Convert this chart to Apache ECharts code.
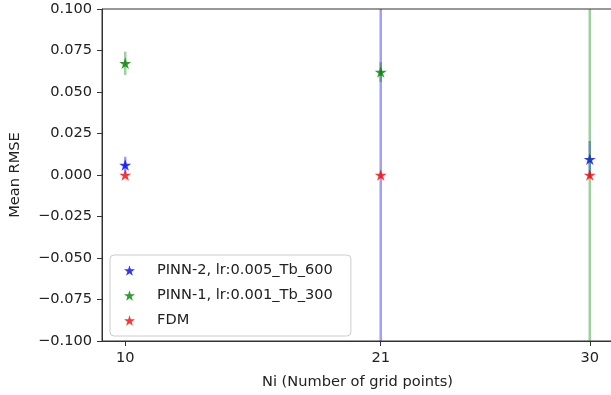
<!DOCTYPE html>
<html>
<head>
<meta charset="utf-8">
<script src="https://cdn.jsdelivr.net/npm/echarts@6/dist/echarts.min.js"></script>
<style>html,body{margin:0;padding:0;background:#fff;}#c{width:611px;height:395px;}</style>
</head>
<body>
<div id="c"></div>
<script>
// ---- data ----
const xValues = [10, 21, 30];
const xTicks = [10, 21, 30];
const seriesNames = ['PINN-2, lr:0.005_Tb_600', 'PINN-1, lr:0.001_Tb_300', 'FDM'];
const pinn2Mean = [0.006, 0.35, 0.0095];
const pinn2Err  = [0.005, 0.60, 0.011];
const pinn1Mean = [0.0673, 0.062, 0.25];
const pinn1Err  = [0.007, 0.006, 0.50];
const fdmMean   = [0.0, 0.0, 0.0];
const fdmErr    = [0.0, 0.0, 0.0];
const yMin = -0.1, yMax = 0.1, yInterval = 0.025;

const colors = ['#0000ff', '#008000', '#ff0000'];
const star = 'path://M50,0L61.23,34.55L97.55,34.55L68.17,55.9L79.39,90.45L50,69.1L20.61,90.45L31.83,55.9L2.45,34.55L38.77,34.55Z';
const font = 'DejaVu Sans';
const fs = 14.6;

const groups = [
  {name: seriesNames[0], mean: pinn2Mean, err: pinn2Err, color: colors[0]},
  {name: seriesNames[1], mean: pinn1Mean, err: pinn1Err, color: colors[1]},
  {name: seriesNames[2], mean: fdmMean, err: fdmErr, color: colors[2]}
];

const series = [];
groups.forEach((g, gi) => {
  series.push({
    type: 'custom',
    name: g.name + '_err',
    clip: true,
    z: 2 + gi * 2,
    data: xValues.map((x, i) => [x, g.mean[i], g.err[i]]),
    renderItem: function (params, api) {
      const x = api.value(0), m = api.value(1), e = api.value(2);
      const p1 = api.coord([x, m - e]);
      const p2 = api.coord([x, m + e]);
      return {
        type: 'line',
        shape: {x1: p1[0], y1: p1[1], x2: p2[0], y2: p2[1]},
        style: {stroke: g.color, lineWidth: 2.5, opacity: 0.38}
      };
    }
  });
  series.push({
    type: 'scatter',
    name: g.name,
    z: 3 + gi * 2,
    symbol: star,
    symbolKeepAspect: true,
    symbolSize: 12,
    itemStyle: {color: g.color},
    clip: true,
    data: xValues.map((x, i) => [x, g.mean[i]])
  });
});

const chart = echarts.init(document.getElementById('c'), null, {renderer: 'canvas'});
chart.setOption({
  animation: false,
  backgroundColor: '#ffffff',
  textStyle: {fontFamily: font},
  grid: {left: 102, right: -2, top: 9, bottom: 54, outerBoundsMode: 'none', containLabel: false,
         show: true, borderColor: '#333', borderWidth: 1, backgroundColor: 'transparent'},
  legend: {
    data: seriesNames.map(n => ({name: n, icon: star})),
    orient: 'vertical',
    left: 110, top: 255,
    itemWidth: 11, itemHeight: 11,
    itemGap: 10,
    padding: [8, 18, 8, 14],
    backgroundColor: 'rgba(255,255,255,0.8)',
    borderColor: '#cccccc', borderWidth: 1, borderRadius: 4,
    textStyle: {fontFamily: font, fontSize: fs, color: '#222', padding: [0, 0, 0, 17]}
  },
  xAxis: {
    type: 'value', min: 9, max: 31,
    name: 'Ni (Number of grid points)', nameLocation: 'middle', nameGap: 34,
    nameTextStyle: {fontFamily: font, fontSize: fs, color: '#222'},
    axisLine: {show: true, onZero: false, lineStyle: {color: '#333', width: 1}},
    axisTick: {show: true, length: 5, inside: false, customValues: xTicks, lineStyle: {color: '#333'}},
    axisLabel: {customValues: xTicks, fontSize: fs, color: '#222', margin: 10, fontFamily: font},
    splitLine: {show: false}
  },
  yAxis: {
    type: 'value', min: yMin, max: yMax, interval: yInterval,
    name: 'Mean RMSE', nameLocation: 'middle', nameGap: 79, nameRotate: 90,
    nameTextStyle: {fontFamily: font, fontSize: fs, color: '#222'},
    axisLine: {show: true, onZero: false, lineStyle: {color: '#333', width: 1}},
    axisTick: {show: true, length: 5, inside: false, lineStyle: {color: '#333'}},
    axisLabel: {fontSize: fs, color: '#222', margin: 10, fontFamily: font,
      formatter: v => (v < 0 ? '\u2212' : '') + Math.abs(v).toFixed(3)},
    splitLine: {show: false}
  },
  series: series
});
</script>
</body>
</html>
